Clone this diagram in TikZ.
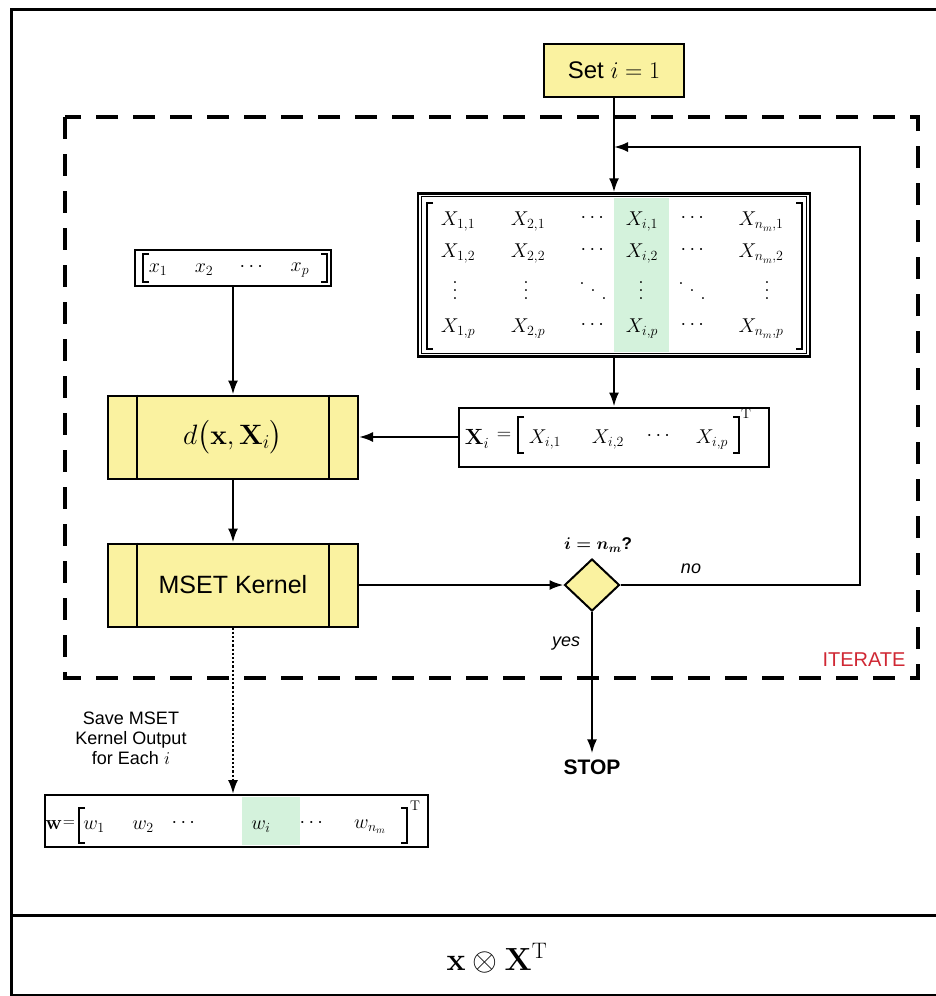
\RequirePackage{fix-cm}
\documentclass[tikz,border=0pt]{standalone}
\usepackage{amsmath,amssymb}
\usepackage[no-math]{fontspec}
\setmainfont{Liberation Sans}
\usetikzlibrary{arrows.meta,shapes.geometric}
\definecolor{procyellow}{RGB}{250,242,160}
\definecolor{hlgreen}{RGB}{212,242,220}
\definecolor{iterred}{RGB}{208,40,52}
\newcommand\myvd{\vbox{\baselineskip=8pt\lineskiplimit=0pt\hbox{$.$}\hbox{$.$}\hbox{$.$}}}
\newcommand\mydd{\mathinner{\raise15pt\hbox{$.$}\mkern5mu\raise7.5pt\hbox{$.$}\mkern5mu\hbox{$.$}}}
\newcommand\mylbr[3]{\draw[brk] (#1+6,#2) -- (#1,#2) -- (#1,#3) -- (#1+6,#3);}
\newcommand\myrbr[3]{\draw[brk] (#1-6,#2) -- (#1,#2) -- (#1,#3) -- (#1-6,#3);}
\tikzset{
  box/.style={draw, line width=2pt, fill=white, inner sep=0pt},
  proc/.style={draw, line width=2pt, fill=procyellow, minimum width=250pt, minimum height=83pt, inner sep=0pt},
  arr/.style={line width=2.2pt, -{Latex[length=14pt,width=10pt]}},
  mtx/.style={font=\fontsize{20}{22}\selectfont, inner sep=0pt},
  lbl/.style={inner sep=0pt},
  brk/.style={line width=1.3pt},
}
\begin{document}
\begin{tikzpicture}[x=1pt,y=-1pt]
\useasboundingbox (0,0) rectangle (936,996);
\fill[white] (0,0) rectangle (936,996);
% outer frame
\draw[line width=3pt] (11,9) rectangle (940,995);
\draw[line width=3pt] (11,915) -- (940,915);
% dashed iterate box
\draw[line width=4pt, dash pattern=on 22pt off 15pt] (65,117) rectangle (918,678);
\node[lbl, text=iterred, font=\fontsize{20}{22}\selectfont] (iter) at (864,660) {ITERATE};

% Set i = 1
\node[proc, minimum width=140pt, minimum height=53pt] (seti) at (614,70) {\fontsize{24}{26}\selectfont Set $i=1$};

% matrix box
\node[box, line width=2.5pt, minimum width=392pt, minimum height=163pt] (mat) at (614,275) {};
\draw[line width=0.9pt] (421.5,196.5) rectangle (806.5,353.5);
\fill[hlgreen] (614,198) rectangle (669,352);
\mylbr{427}{203}{349}
\myrbr{802}{203}{349}
\node[mtx] (m11) at (458,222) {$X_{1,1}$};
\node[mtx] (m21) at (528,222) {$X_{2,1}$};
\node[mtx] (m31) at (594,218) {$\cdots$};
\node[mtx] (m41) at (642,222) {$X_{i,1}$};
\node[mtx] (m51) at (694,218) {$\cdots$};
\node[mtx] (m61) at (761,222) {$X_{n_m,1}$};
\node[mtx] (m12) at (458,254) {$X_{1,2}$};
\node[mtx] (m22) at (528,254) {$X_{2,2}$};
\node[mtx] (m32) at (594,250) {$\cdots$};
\node[mtx] (m42) at (642,254) {$X_{i,2}$};
\node[mtx] (m52) at (694,250) {$\cdots$};
\node[mtx] (m62) at (761,254) {$X_{n_m,2}$};
\node[mtx] (m13) at (455,291) {$\myvd$};
\node[mtx] (m23) at (526,291) {$\myvd$};
\node[mtx] (m33) at (593,291) {$\mydd$};
\node[mtx] (m43) at (641,291) {$\myvd$};
\node[mtx] (m53) at (692,291) {$\mydd$};
\node[mtx] (m63) at (767,291) {$\myvd$};
\node[mtx] (m14) at (458,329) {$X_{1,p}$};
\node[mtx] (m24) at (528,329) {$X_{2,p}$};
\node[mtx] (m34) at (594,325) {$\cdots$};
\node[mtx] (m44) at (642,329) {$X_{i,p}$};
\node[mtx] (m54) at (694,325) {$\cdots$};
\node[mtx] (m64) at (761,329) {$X_{n_m,p}$};

% Xi box
\node[box, minimum width=310pt, minimum height=59pt] (xi) at (614,437) {};
\node[mtx, font=\fontsize{22}{24}\selectfont] (xil) at (477,439) {$\mathbf{X}_i$};
\node[mtx, font=\fontsize{20}{22}\selectfont] (xieq) at (504,436) {$=$};
\mylbr{518}{417}{453}
\node[mtx] (xi1) at (545,440) {$X_{i,1}$};
\node[mtx] (xi2) at (608,440) {$X_{i,2}$};
\node[mtx] (xid) at (660,436) {$\cdots$};
\node[mtx] (xip) at (712,440) {$X_{i,p}$};
\myrbr{739}{417}{453}
\node[mtx, font=\fontsize{14}{16}\selectfont] (xit) at (746,414) {$\mathrm{T}$};

% x vector box
\node[box, minimum width=196pt, minimum height=36pt] (xv) at (233,268) {};
\mylbr{143}{254}{282}
\node[mtx] (x1) at (158,270) {$x_1$};
\node[mtx] (x2) at (204,270) {$x_2$};
\node[mtx] (xvd) at (253,267) {$\cdots$};
\node[mtx] (xp) at (300,270) {$x_p$};
\myrbr{327}{254}{282}

% d box
\node[proc] (d) at (233,437) {\fontsize{28}{30}\selectfont $d\bigl(\mathbf{x},\mathbf{X}_i\bigr)$};
\draw[line width=2pt] ([xshift=30pt]d.north west) -- ([xshift=30pt]d.south west);
\draw[line width=2pt] ([xshift=-30pt]d.north east) -- ([xshift=-30pt]d.south east);

% MSET Kernel box
\node[proc] (k) at (233,585) {\fontsize{25}{28}\selectfont MSET Kernel};
\draw[line width=2pt] ([xshift=30pt]k.north west) -- ([xshift=30pt]k.south west);
\draw[line width=2pt] ([xshift=-30pt]k.north east) -- ([xshift=-30pt]k.south east);

% decision
\node[diamond, draw, fill=procyellow, line width=2pt, minimum width=55pt, minimum height=52pt, inner sep=0pt] (dec) at (592,585) {};
\node[lbl, font=\fontsize{17}{19}\selectfont] (q) at (598,545) {{\boldmath$i = n_m$}\textbf{?}};
\node[lbl, font=\fontsize{18}{20}\selectfont\itshape] (no) at (691,569) {no};
\node[lbl, font=\fontsize{18}{20}\selectfont\itshape] (yes) at (566,644) {yes};
\node[lbl, font=\fontsize{21}{23}\selectfont\bfseries] (stop) at (592,767) {STOP};

% w box
\node[box, minimum width=383pt, minimum height=52pt] (w) at (236.5,821) {};
\fill[hlgreen] (242,797) rectangle (300,845);
\node[mtx, font=\fontsize{20}{22}\selectfont] (wb) at (54,825) {$\mathbf{w}$};
\node[mtx, font=\fontsize{16}{18}\selectfont] (weq) at (69,824) {$=$};
\mylbr{79}{808}{843}
\node[mtx] (w1) at (94,827) {$w_1$};
\node[mtx] (w2) at (143,827) {$w_2$};
\node[mtx] (wd1) at (185,823) {$\cdots$};
\node[mtx] (wi) at (261,827) {$w_i$};
\node[mtx] (wd2) at (313,823) {$\cdots$};
\node[mtx] (wn) at (370,827) {$w_{n_m}$};
\myrbr{407}{808}{843}
\node[mtx, font=\fontsize{14}{16}\selectfont] (wt) at (415,806) {$\mathrm{T}$};

\node[lbl, align=center, font=\fontsize{18}{20}\selectfont] (save) at (131,738) {Save MSET\\Kernel Output\\for Each $i$};

% bottom formula
\node[lbl, font=\fontsize{32}{34}\selectfont] (f) at (497,958) {$\mathbf{x}\otimes\mathbf{X}^{\mathrm{T}}$};

% connectors
\coordinate (loopc) at (860,147);
\coordinate (join) at (614,147);
\draw[arr] (seti.south) -- (mat.north);
\draw[arr] (dec.east) -| (loopc) -- (join);
\draw[arr] (mat.south) -- (xi.north);
\draw[arr] (xi.west) -- (d.east);
\draw[arr] (xv.south) -- (d.north);
\draw[arr] (d.south) -- (k.north);
\draw[arr] (k.east) -- (dec.west);
\draw[arr] (dec.south) -- ([yshift=6pt]stop.north);
\draw[arr, dotted] (k.south) -- (k.south |- w.north);
\end{tikzpicture}
\end{document}
